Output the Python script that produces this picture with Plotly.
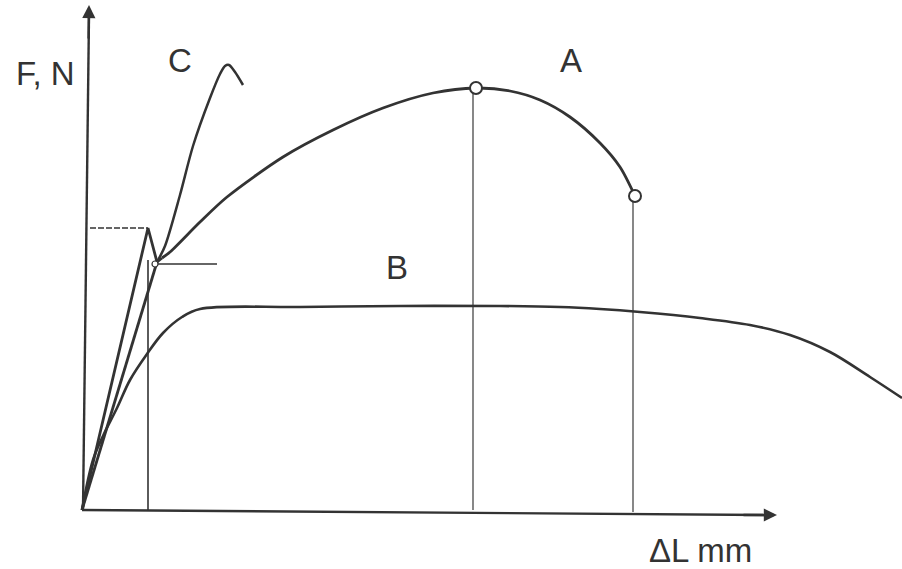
import plotly.graph_objects as go

# coordinates: dL to the right of the origin, F above the origin
# curve A (mild steel): linear part, yield tooth, hardening, necking, fracture
a_dl = [0, 66, 75, 80, 88, 118, 145, 201, 251, 301, 351, 394, 428, 458, 488, 518, 538, 553]
a_f = [0, 282, 248, 252, 258, 288, 313, 353, 380, 402, 417, 422, 419, 410, 393, 367, 343, 314]

# curve C (brittle, high strength)
c_dl = [0, 75, 83, 98, 111, 128, 138, 143, 147, 153, 161]
c_f = [0, 248, 264, 315, 364, 412, 436, 444, 445, 438, 425]

# curve B (no yield point, long plastic plateau)
b_dl = [0, 11, 21, 35, 48, 65, 81, 100, 118, 218, 318, 418, 478, 518, 558, 618, 668, 708, 748, 788, 820]
b_f = [0, 50, 74, 102, 130, 156, 177, 193, 201, 203, 204, 204, 203, 201, 198, 192, 185, 175, 158, 133, 112]

# marked points on A: ultimate force and fracture
mark_dl = [394, 553]
mark_f = [422, 314]

ink = "#333333"
fig = go.Figure()

def line(x, y, w=1.6, dash=None, color=ink, sm=0.8):
    fig.add_trace(go.Scatter(x=x, y=y, mode="lines", showlegend=False, hoverinfo="skip",
                             line=dict(color=color, width=w, dash=dash, shape="spline", smoothing=sm)))

# axes
line([1, 7], [0, 495], w=2.4)
line([0, 688], [0, -5], w=2.4)

# helper lines
line([66, 66], [0, 250], w=1.6)
line([8, 66], [282, 282], w=1.6, dash="6px,2px")
line([70, 135], [246, 246], w=1.6)
line([391, 391], [0, 422], w=1.4, color="#555")
line([551, 551], [-2, 314], w=1.4, color="#555")

# curves
fig.add_trace(go.Scatter(x=a_dl[:4], y=a_f[:4], mode="lines", showlegend=False,
                         line=dict(color=ink, width=2.8)))
line(a_dl[3:], a_f[3:], w=2.8)
fig.add_trace(go.Scatter(x=c_dl[:2], y=c_f[:2], mode="lines", showlegend=False,
                         line=dict(color=ink, width=2.8)))
line(c_dl[1:], c_f[1:], w=2.5)
line(b_dl, b_f, w=2.6, sm=1.0)

fig.add_trace(go.Scatter(x=mark_dl, y=mark_f, mode="markers", showlegend=False,
                         marker=dict(size=12, color="white", line=dict(color=ink, width=2))))
fig.add_trace(go.Scatter(x=[73], y=[246], mode="markers", showlegend=False,
                         marker=dict(size=6, color="white", line=dict(color=ink, width=1.2))))

# arrow heads
fig.add_annotation(x=7, y=505, ax=6.6, ay=470, xref="x", yref="y", axref="x", ayref="y",
                   text="", showarrow=True, arrowhead=2, arrowsize=1.1, arrowwidth=2.4, arrowcolor=ink)
fig.add_annotation(x=695, y=-5, ax=660, ay=-5, xref="x", yref="y", axref="x", ayref="y",
                   text="", showarrow=True, arrowhead=2, arrowsize=1.1, arrowwidth=2.4, arrowcolor=ink)

labels = [("F, N", -37, 437), ("C", 98, 450), ("A", 489, 450), ("B", 315, 243), ("ΔL mm", 618, -40)]
for t, x, y in labels:
    fig.add_annotation(x=x, y=y, text=t, showarrow=False, xref="x", yref="y",
                       font=dict(family="Liberation Sans, Arial", size=33, color=ink))

fig.update_layout(width=902, height=569, margin=dict(l=0, r=0, t=0, b=0),
                  paper_bgcolor="white", plot_bgcolor="white",
                  xaxis=dict(range=[-82, 820], visible=False, fixedrange=True),
                  yaxis=dict(range=[-59, 510], visible=False, fixedrange=True))
fig.write_html("out.html", config={"displayModeBar": False},
               post_script="document.body.style.margin='0';")
